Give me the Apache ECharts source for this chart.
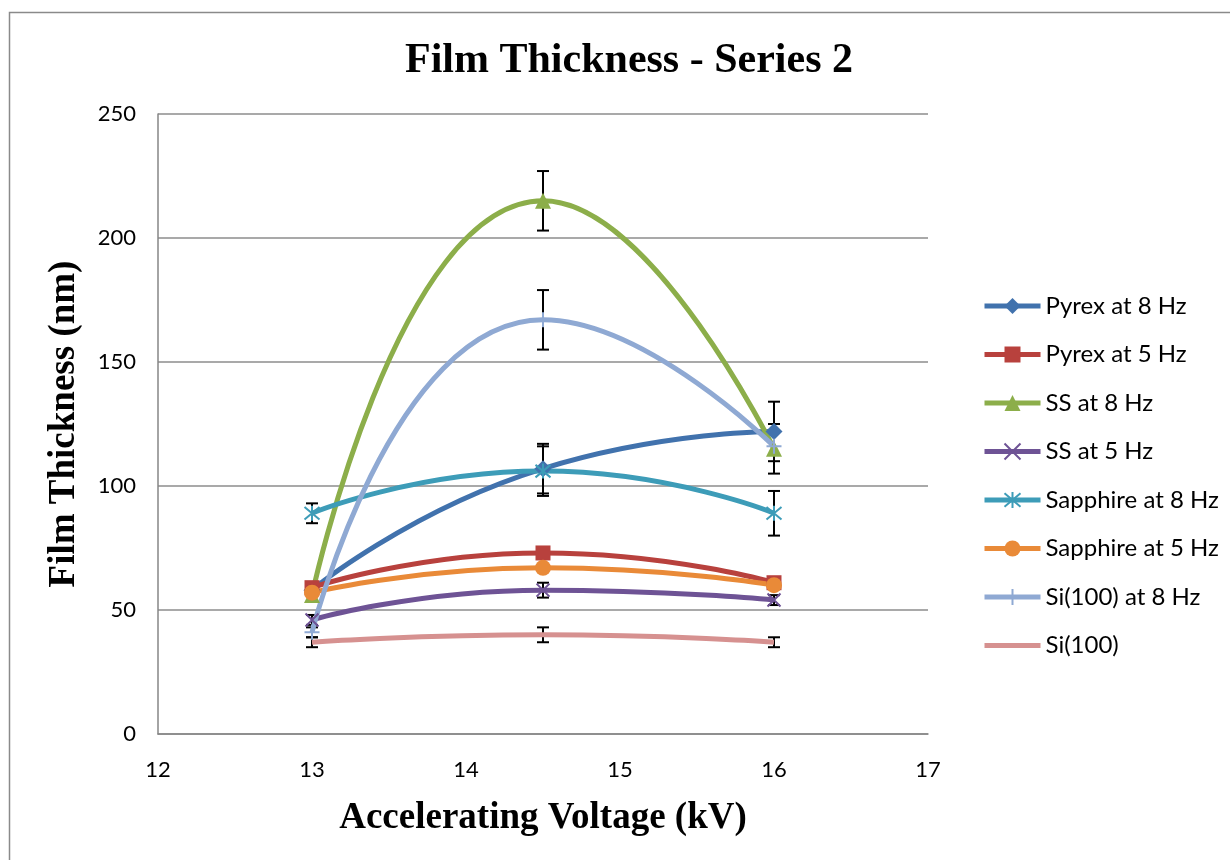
<!DOCTYPE html>
<html>
<head>
<meta charset="utf-8">
<script src="https://cdn.jsdelivr.net/npm/echarts@6/dist/echarts.min.js"></script>
<style>
  html, body { margin: 0; padding: 0; background: #fff; }
  #chart { width: 1230px; height: 860px; }
</style>
</head>
<body>
<div id="chart"></div>
<script>
// Accelerating voltage (kV) at which films were grown
const voltages = [13, 14.5, 16];

// Film thickness (nm) per substrate / pulse rate
const pyrex8 = [58, 107, 122];
const pyrex5 = [59, 73, 61];
const ss8 = [56, 215, 115];
const ss5 = [46, 58, 54];
const sapphire8 = [89, 106, 89];
const sapphire5 = [57, 67, 60];
const si8 = [41, 167, 116];
const si = [37, 40, 37];

// Symmetric error (± nm); 0 means no bar drawn
const pyrex8Err = [0, 10, 12];
const ss8Err = [0, 12, 10];
const ss5Err = [2, 3, 2];
const sapphire8Err = [4, 10, 9];
const si8Err = [2, 12, 0];
const siErr = [2, 3, 2];

const xTicks = [12, 13, 14, 15, 16, 17];
const yTicks = [0, 50, 100, 150, 200, 250];

const serifFont = '"Liberation Serif", "DejaVu Serif", serif';
const sansFont = 'Lato, "Open Sans", sans-serif';

const xPath = 'path://M0 0 L10 10 M10 0 L0 10';
const starPath = 'path://M0 0 L10 10 M10 0 L0 10 M5 -1 L5 11';
const plusPath = 'path://M5 0 L5 10 M0 5 L10 5';

function pairs(vals) {
  return voltages.map((v, i) => [v, vals[i]]);
}

function lineSeries(name, vals, color, symbol, size, stroked) {
  const s = {
    name: name,
    type: 'line',
    smooth: 0.55,
    data: pairs(vals),
    symbol: symbol,
    symbolSize: size,
    showAllSymbol: true,
    lineStyle: { color: color, width: 5 },
    itemStyle: { color: color },
    z: 3
  };
  if (stroked) {
    s.itemStyle = { color: 'none', borderColor: color, borderWidth: 2 };
  }
  return s;
}

function errorSeries(vals, errs) {
  const rows = [];
  voltages.forEach((v, i) => {
    if (errs[i] > 0) rows.push([v, vals[i] - errs[i], vals[i] + errs[i]]);
  });
  return {
    type: 'custom',
    silent: true,
    z: 2,
    data: rows,
    encode: { x: 0, y: [1, 2] },
    renderItem: function (params, api) {
      const lo = api.coord([api.value(0), api.value(1)]);
      const hi = api.coord([api.value(0), api.value(2)]);
      const hw = 6;
      const st = { stroke: '#000', lineWidth: 2 };
      return {
        type: 'group',
        children: [
          { type: 'line', shape: { x1: lo[0], y1: lo[1], x2: hi[0], y2: hi[1] }, style: st },
          { type: 'line', shape: { x1: lo[0] - hw, y1: lo[1], x2: lo[0] + hw, y2: lo[1] }, style: st },
          { type: 'line', shape: { x1: hi[0] - hw, y1: hi[1], x2: hi[0] + hw, y2: hi[1] }, style: st }
        ]
      };
    }
  };
}

const names = ['Pyrex at 8 Hz', 'Pyrex at 5 Hz', 'SS at 8 Hz', 'SS at 5 Hz',
  'Sapphire at 8 Hz', 'Sapphire at 5 Hz', 'Si(100) at 8 Hz', 'Si(100)'];

const legendData = names.map((n, i) =>
  i === names.length - 1
    ? { name: n, itemStyle: { opacity: 0 } }
    : { name: n });

const chart = echarts.init(document.getElementById('chart'));
chart.setOption({
  animation: false,
  backgroundColor: '#fff',
  graphic: [{
    type: 'rect',
    shape: { x: 9.5, y: 12.5, width: 1400, height: 1000 },
    style: { fill: 'none', stroke: '#8a8a8a', lineWidth: 1.5 },
    silent: true
  }],
  title: {
    text: 'Film Thickness - Series 2',
    left: 624, top: 35, textAlign: 'center',
    textStyle: { fontFamily: serifFont, fontWeight: 'bold', fontSize: 42, color: '#000' }
  },
  grid: { left: 158, right: 302, top: 114, bottom: 126 },
  legend: {
    data: legendData,
    orient: 'vertical',
    left: 977, top: 289,
    itemWidth: 56, itemHeight: 20, itemGap: 24.5,
    lineStyle: { width: 5 },
    textStyle: { fontFamily: sansFont, fontSize: 24, color: '#000' }
  },
  xAxis: {
    type: 'value',
    min: 12, max: 17, interval: 1,
    name: 'Accelerating Voltage (kV)',
    nameLocation: 'middle', nameGap: 66,
    nameTextStyle: { fontFamily: serifFont, fontWeight: 'bold', fontSize: 37, color: '#000' },
    axisLine: { lineStyle: { color: '#868686', width: 1.5 } },
    axisTick: { show: false },
    splitLine: { show: false },
    axisLabel: {
      fontFamily: sansFont, fontSize: 22, color: '#000', margin: 25,
      customValues: xTicks
    }
  },
  yAxis: {
    type: 'value',
    min: 0, max: 250, interval: 50,
    name: 'Film Thickness (nm)',
    nameLocation: 'middle', nameGap: 75, nameRotate: 90,
    nameTextStyle: { fontFamily: serifFont, fontWeight: 'bold', fontSize: 37, color: '#000' },
    axisLine: { show: true, lineStyle: { color: '#868686', width: 1.5 } },
    axisTick: { show: false },
    splitLine: { lineStyle: { color: '#8c8c8c', width: 1.5 } },
    axisLabel: {
      fontFamily: sansFont, fontSize: 22, color: '#000', margin: 22,
      customValues: yTicks
    }
  },
  series: [
    errorSeries(pyrex8, pyrex8Err),
    errorSeries(ss8, ss8Err),
    errorSeries(ss5, ss5Err),
    errorSeries(sapphire8, sapphire8Err),
    errorSeries(si8, si8Err),
    errorSeries(si, siErr),
    lineSeries(names[0], pyrex8, '#4172ad', 'diamond', 17),
    lineSeries(names[1], pyrex5, '#b8413d', 'rect', 15),
    lineSeries(names[2], ss8, '#8cae4a', 'triangle', 16),
    lineSeries(names[3], ss5, '#6e5395', xPath, 13, true),
    lineSeries(names[4], sapphire8, '#3d9cb8', starPath, 15, true),
    lineSeries(names[5], sapphire5, '#e98a38', 'circle', 16),
    lineSeries(names[6], si8, '#8fa9d3', plusPath, 15, true),
    lineSeries(names[7], si, '#d69190', 'none', 1)
  ]
});
</script>
</body>
</html>
